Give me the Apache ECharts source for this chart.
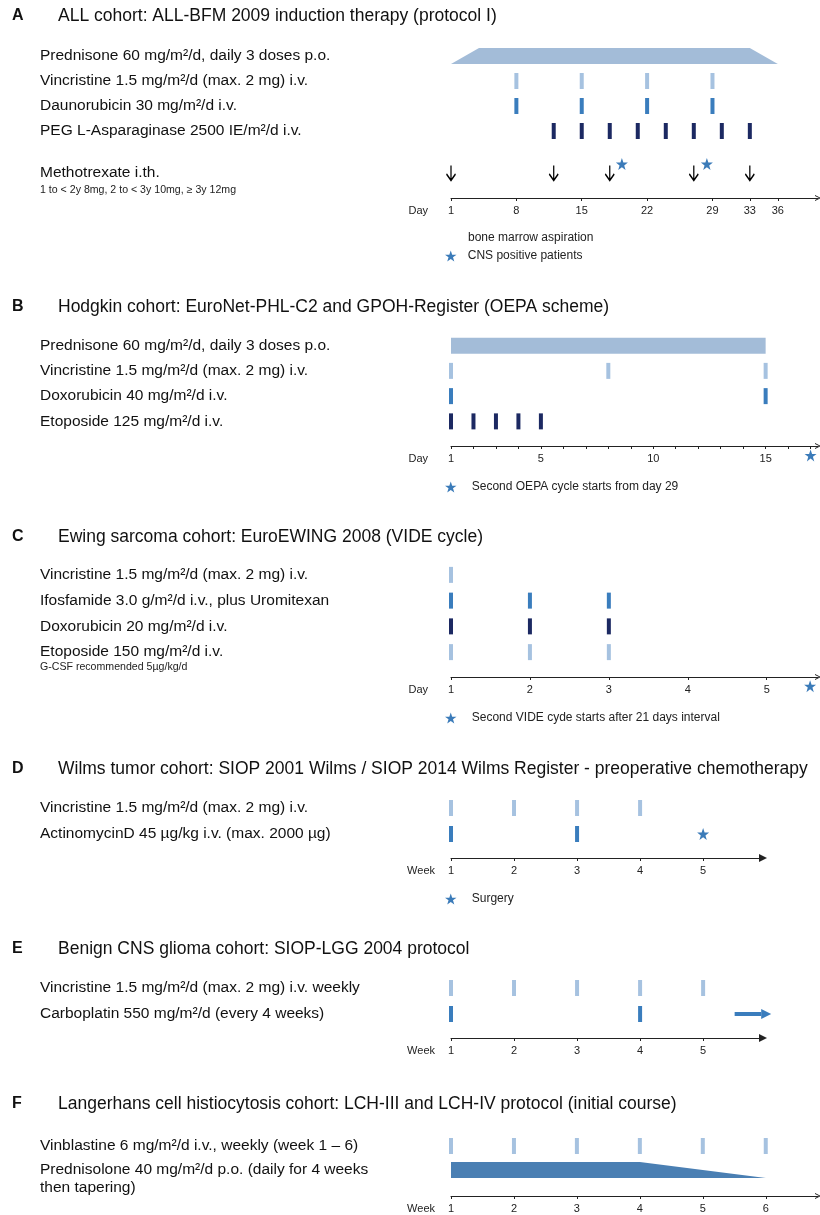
<!DOCTYPE html>
<html>
<head>
<meta charset="utf-8">
<title>Treatment protocols</title>
<script src="https://cdn.jsdelivr.net/npm/echarts@6/dist/echarts.min.js"></script>
<style>
  html,body{margin:0;padding:0;background:#fff;}
  #chart{width:820px;height:1215px;}
</style>
</head>
<body>
<div id="chart"></div>
<script>
// ---------- data ----------
// A  ALL-BFM 2009 induction (days)
var rowsA = ['Prednisone 60 mg/m²/d, daily 3 doses p.o.', 'Vincristine 1.5 mg/m²/d (max. 2 mg) i.v.', 'Daunorubicin 30 mg/m²/d i.v.', 'PEG L-Asparaginase 2500 IE/m²/d i.v.'];
var rowsA2 = ['Methotrexate i.th.'];
var prednisoneA = [1, 4, 33, 36];      // ramp start, full dose from, full dose to, ramp end
var vincristineA = [8, 15, 22, 29];
var daunorubicinA = [8, 15, 22, 29];
var asparaginaseA = [12, 15, 18, 21, 24, 27, 30, 33];
var methotrexateA = [1, 12, 18, 27, 33];
var cnsPositiveA = [19.3, 28.4];
var ticksA = [1, 8, 15, 22, 29, 33, 36];

// B  OEPA (days)
var rowsB = ['Prednisone 60 mg/m²/d, daily 3 doses p.o.', 'Vincristine 1.5 mg/m²/d (max. 2 mg) i.v.', 'Doxorubicin 40 mg/m²/d i.v.', 'Etoposide 125 mg/m²/d i.v.'];
var prednisoneB = [1, 1, 15, 15];
var vincristineB = [1, 8, 15];
var doxorubicinB = [1, 15];
var etoposideB = [1, 2, 3, 4, 5];
var nextCycleB = [17];
var ticksB = [1, 2, 3, 4, 5, 6, 7, 8, 9, 10, 11, 12, 13, 14, 15, 16, 17];
var labelsB = [1, 5, 10, 15];

// C  VIDE (days)
var rowsC = ['Vincristine 1.5 mg/m²/d (max. 2 mg) i.v.', 'Ifosfamide 3.0 g/m²/d i.v., plus Uromitexan', 'Doxorubicin 20 mg/m²/d i.v.', 'Etoposide 150 mg/m²/d i.v.'];
var vincristineC = [1];
var ifosfamideC = [1, 2, 3];
var doxorubicinC = [1, 2, 3];
var etoposideC = [1, 2, 3];
var nextCycleC = [5.55];
var ticksC = [1, 2, 3, 4, 5];

// D  Wilms (weeks)
var rowsD = ['Vincristine 1.5 mg/m²/d (max. 2 mg) i.v.', 'ActinomycinD 45 µg/kg i.v. (max. 2000 µg)'];
var vincristineD = [1, 2, 3, 4];
var actinomycinD = [1, 3];
var surgeryD = [5];
var ticksD = [1, 2, 3, 4, 5];

// E  SIOP-LGG (weeks)
var rowsE = ['Vincristine 1.5 mg/m²/d (max. 2 mg) i.v. weekly', 'Carboplatin 550 mg/m²/d (every 4 weeks)'];
var vincristineE = [1, 2, 3, 4, 5];
var carboplatinE = [1, 4];
var continueE = [5.5, 6.08];
var ticksE = [1, 2, 3, 4, 5];

// F  LCH (weeks)
var rowsF = ['Vinblastine 6 mg/m²/d i.v., weekly (week 1 – 6)', 'Prednisolone 40 mg/m²/d p.o. (daily for 4 weeks'];
var vinblastineF = [1, 2, 3, 4, 5, 6];
var prednisoloneF = [1, 1, 4, 6];
var ticksF = [1, 2, 3, 4, 5, 6];

// second lines under some drug names
var subLabels = {
  'Methotrexate i.th.': ['s', '1 to < 2y 8mg, 2 to < 3y 10mg, ≥ 3y 12mg'],
  'Etoposide 150 mg/m²/d i.v.': ['g', 'G-CSF recommended 5µg/kg/d'],
  'Prednisolone 40 mg/m²/d p.o. (daily for 4 weeks': ['a', 'then tapering)']
};

// ---------- styles ----------
var FONT = 'Liberation Sans, Arial, sans-serif';
var LIGHT = '#a6c2e0', MID = '#3a7dbd', NAVY = '#1c2962', PALE = '#a3bcd8', STARC = '#3b7bb9', STEEL = '#4a7fb3';
var STAR = 'path://M50,0L61.8,35.1L98.1,35.1L68.7,56.8L79.4,91.9L50,70L20.6,91.9L31.3,56.8L1.9,35.1L38.2,35.1Z';
var DOWN = 'path://M5,0L5,16M0,9L5,16L10,9';
var CHEVRON = 'path://M0,10L5,0L10,10L8.4,10L5,3.2L1.6,10Z';
var HEAD = 'path://M0,10L5,0L10,10Z';

function labelFormatter(v) {
  var sub = subLabels[v];
  if (!sub) return '{a|' + v + '}';
  return '{p' + sub[0] + '| }\n{a|' + v + '}\n{' + sub[0] + '|' + sub[1] + '}';
}

function rowAxis(g, rows) {
  return {
    gridIndex: g, type: 'category', inverse: true, data: rows,
    axisLine: {show: false}, axisTick: {show: false}, splitLine: {show: false},
    axisLabel: {
      interval: 0, align: 'left', margin: 411, color: '#111', formatter: labelFormatter,
      rich: {
        a: {fontSize: 15.5, lineHeight: 18, color: '#111', fontFamily: FONT},
        s: {fontSize: 10.6, lineHeight: 16, color: '#222', fontFamily: FONT},
        g: {fontSize: 10.6, lineHeight: 12, color: '#222', fontFamily: FONT},
        pa: {fontSize: 10, lineHeight: 18},
        ps: {fontSize: 10, lineHeight: 16},
        pg: {fontSize: 10, lineHeight: 12}
      }
    }
  };
}

function timeAxis(g, max, ticks, labels, name, gap, offset, arrow) {
  return {
    gridIndex: g, type: 'value', min: 1, max: max, offset: offset,
    name: name, nameLocation: 'start', nameGap: gap,
    nameTextStyle: {fontSize: 11, color: '#222', verticalAlign: 'top', padding: [7, 0, 0, 0]},
    axisLine: {show: true, symbol: ['none', arrow], symbolSize: arrow === HEAD ? [8, 9] : [7, 6],
      lineStyle: {color: '#222', width: 1}},
    axisTick: {show: true, customValues: ticks, length: 3, lineStyle: {color: '#222'}},
    axisLabel: {customValues: labels, fontSize: 11, color: '#222', margin: 7},
    splitLine: {show: false}
  };
}

function pos(list, row) {
  return list.map(function (d) { return [d, row]; });
}

function doses(g, list, row, color) {
  return {type: 'scatter', xAxisIndex: g, yAxisIndex: g, symbol: 'rect', symbolSize: [4, 16],
    itemStyle: {color: color, opacity: 1}, data: pos(list, row), silent: true, z: 3};
}

function stars(g, name, list, row, offsetY) {
  return {type: 'scatter', name: name, xAxisIndex: g, yAxisIndex: g, symbol: STAR, symbolSize: 12,
    symbolOffset: [0, offsetY], itemStyle: {color: STARC, opacity: 1}, data: pos(list, row), silent: true, z: 4};
}

function taperItem(params, api) {
  var row = api.value(4), h = 16;
  var p = [0, 1, 2, 3].map(function (i) { return api.coord([api.value(i), row]); });
  return {
    type: 'polygon',
    shape: {points: [[p[0][0], p[0][1] + h / 2], [p[1][0], p[1][1] - h / 2], [p[2][0], p[2][1] - h / 2], [p[3][0], p[3][1] + h / 2]]},
    style: {fill: api.visual('color')}
  };
}

function taper(g, shape, row, color) {
  return {type: 'custom', xAxisIndex: g, yAxisIndex: g, renderItem: taperItem,
    encode: {x: [0, 1, 2, 3], y: 4}, itemStyle: {color: color}, data: [shape.concat([row])], silent: true};
}

function arrowItem(params, api) {
  var a = api.coord([api.value(0), api.value(2)]);
  var b = api.coord([api.value(1), api.value(2)]);
  var head = 10, shaft = 4, hh = 10, c = api.visual('color');
  return {type: 'group', children: [
    {type: 'rect', shape: {x: a[0], y: a[1] - shaft / 2, width: b[0] - a[0] - head, height: shaft}, style: {fill: c}},
    {type: 'polygon', shape: {points: [[b[0] - head, a[1] - hh / 2], [b[0], a[1]], [b[0] - head, a[1] + hh / 2]]}, style: {fill: c}}
  ]};
}

function starLegend(name, left, top, textGap) {
  return {data: [name], left: left, top: top, padding: 0, icon: STAR, itemWidth: 24, itemHeight: 11,
    selectedMode: false, textStyle: {fontSize: 12, color: '#222', fontFamily: FONT, padding: [0, 0, 0, textGap]}};
}

function heading(letter, text, y) {
  return [
    {text: letter, left: 12, top: y - 9, padding: 0, textStyle: {fontSize: 16, fontWeight: 'bold', color: '#111', fontFamily: FONT}},
    {text: text, left: 58, top: y - 10, padding: 0, textStyle: {fontSize: 17.5, fontWeight: 'normal', color: '#111', fontFamily: FONT}}
  ];
}

var chart = echarts.init(document.getElementById('chart'));

var option = {
  animation: false,
  textStyle: {fontFamily: FONT},
  title: [].concat(
    heading('A', 'ALL cohort: ALL-BFM 2009 induction therapy (protocol I)', 17),
    heading('B', 'Hodgkin cohort: EuroNet-PHL-C2 and GPOH-Register (OEPA scheme)', 308),
    heading('C', 'Ewing sarcoma cohort: EuroEWING 2008 (VIDE cycle)', 538),
    heading('D', 'Wilms tumor cohort: SIOP 2001 Wilms / SIOP 2014 Wilms Register - preoperative chemotherapy', 770),
    heading('E', 'Benign CNS glioma cohort: SIOP-LGG 2004 protocol', 950),
    heading('F', 'Langerhans cell histiocytosis cohort: LCH-III and LCH-IV protocol (initial course)', 1105)
  ),
  grid: [
    {left: 451, top: 43.5, width: 367, height: 100},
    {left: 451, top: 160.5, width: 367, height: 25},
    {left: 451, top: 333, width: 367, height: 101},
    {left: 451, top: 562, width: 367, height: 103},
    {left: 451, top: 795, width: 312, height: 52},
    {left: 451, top: 975, width: 312, height: 52},
    {left: 451, top: 1134, width: 367, height: 48}
  ],
  xAxis: [
    {gridIndex: 0, type: 'value', min: 1, max: 40.3, show: false},
    timeAxis(1, 40.3, ticksA, ticksA, 'Day', 23, 12.5, CHEVRON),
    timeAxis(2, 17.33, ticksB, labelsB, 'Day', 23, 12, CHEVRON),
    timeAxis(3, 5.65, ticksC, ticksC, 'Day', 23, 12, CHEVRON),
    timeAxis(4, 5.95, ticksD, ticksD, 'Week', 16, 11, HEAD),
    timeAxis(5, 5.95, ticksE, ticksE, 'Week', 16, 11, HEAD),
    timeAxis(6, 6.83, ticksF, ticksF, 'Week', 16, 14, CHEVRON)
  ],
  yAxis: [
    rowAxis(0, rowsA), rowAxis(1, rowsA2), rowAxis(2, rowsB), rowAxis(3, rowsC),
    rowAxis(4, rowsD), rowAxis(5, rowsE), rowAxis(6, rowsF)
  ],
  legend: [
    starLegend('CNS positive patients', 445, 250, 0),
    starLegend('Second OEPA cycle starts from day 29', 445, 481, 4),
    starLegend('Second VIDE cyde starts after 21 days interval', 445, 712, 4),
    starLegend('Surgery', 445, 893, 4)
  ],
  graphic: [
    {type: 'text', left: 468, top: 232, style: {text: 'bone marrow aspiration', fontSize: 12, fill: '#222', fontFamily: FONT}}
  ],
  series: [
    // A
    taper(0, prednisoneA, 0, PALE),
    doses(0, vincristineA, 1, LIGHT),
    doses(0, daunorubicinA, 2, MID),
    doses(0, asparaginaseA, 3, NAVY),
    {type: 'scatter', xAxisIndex: 1, yAxisIndex: 1, symbol: DOWN, symbolSize: [9, 15],
      itemStyle: {color: 'transparent', borderColor: '#000', borderWidth: 1.6, opacity: 1}, data: pos(methotrexateA, 0), silent: true},
    stars(1, 'CNS positive patients', cnsPositiveA, 0, -9),
    // B
    taper(2, prednisoneB, 0, PALE),
    doses(2, vincristineB, 1, LIGHT),
    doses(2, doxorubicinB, 2, MID),
    doses(2, etoposideB, 3, NAVY),
    stars(2, 'Second OEPA cycle starts from day 29', nextCycleB, 3, 34),
    // C
    doses(3, vincristineC, 0, LIGHT),
    doses(3, ifosfamideC, 1, MID),
    doses(3, doxorubicinC, 2, NAVY),
    doses(3, etoposideC, 3, LIGHT),
    stars(3, 'Second VIDE cyde starts after 21 days interval', nextCycleC, 3, 34),
    // D
    doses(4, vincristineD, 0, LIGHT),
    doses(4, actinomycinD, 1, MID),
    stars(4, 'Surgery', surgeryD, 1, 0),
    // E
    doses(5, vincristineE, 0, LIGHT),
    doses(5, carboplatinE, 1, MID),
    {type: 'custom', xAxisIndex: 5, yAxisIndex: 5, renderItem: arrowItem, encode: {x: [0, 1], y: 2},
      itemStyle: {color: MID}, data: [continueE.concat([1])], silent: true},
    // F
    doses(6, vinblastineF, 0, LIGHT),
    taper(6, prednisoloneF, 1, STEEL)
  ]
};

chart.setOption(option);
</script>
</body>
</html>
